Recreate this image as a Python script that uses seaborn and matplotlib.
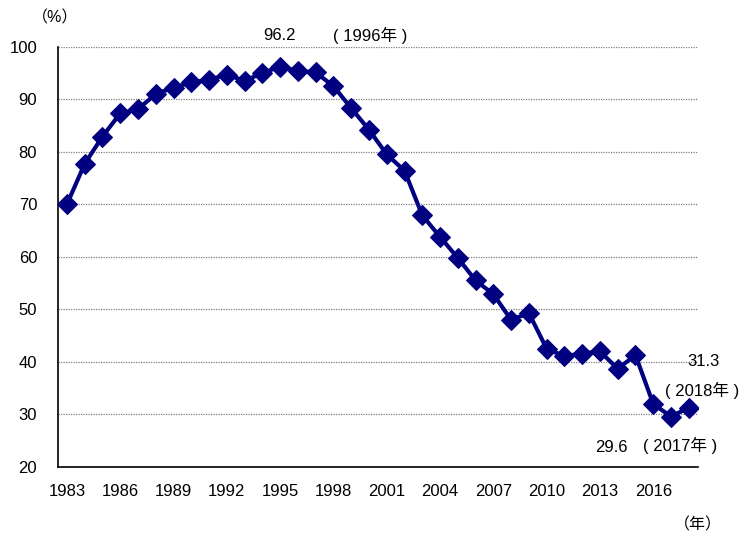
import numpy as np
import pandas as pd
import matplotlib.pyplot as plt
import seaborn as sns

sns.set_theme(style="white")
plt.rcParams['font.family'] = ['Liberation Sans', 'Noto Sans CJK JP']
plt.rcParams['text.color'] = 'black'

years = list(range(1983, 2019))
rates = [70.0, 77.7, 82.9, 87.3, 88.1, 91.0, 92.2, 93.2, 93.7, 94.7,
         93.5, 95.0, 96.2, 95.4, 95.1, 92.5, 88.3, 84.2, 79.5, 76.4,
         67.9, 63.8, 59.8, 55.5, 52.9, 48.0, 49.3, 42.5, 41.1, 41.6,
         42.0, 38.7, 41.3, 32.0, 29.6, 31.3]
year_labels = list(range(1983, 2017, 3))
y_ticks = list(range(20, 101, 10))

df = pd.DataFrame({"year": years, "rate": rates})

fig = plt.figure(figsize=(7.43, 5.33), dpi=100)
ax = fig.add_axes([0.0781, 0.1238, 0.8609, 0.7886])

sns.lineplot(data=df, x="year", y="rate", ax=ax, color="#000080",
             marker="D", markersize=10, markeredgecolor="#000080",
             linewidth=3, zorder=3)

ax.set_xlim(years[0] - 0.5, years[-1] + 0.5)
ax.set_ylim(20, 100)
ax.set_yticks(y_ticks)
ax.set_xticks(year_labels)
ax.set_xticks([y + 0.5 for y in years], minor=True)
ax.tick_params(axis="x", which="major", length=0, pad=12, labelsize=12, colors="black")
ax.tick_params(axis="x", which="minor", direction="in", length=4, width=0.8, color="black")
ax.tick_params(axis="y", length=0, pad=15, labelsize=12, colors="black")
ax.set_xlabel("")
ax.set_ylabel("")

for v in y_ticks[1:]:
    ax.axhline(v, color="#808080", linestyle=(0, (1, 1)), linewidth=0.9, zorder=1)

for s in ["top", "right"]:
    ax.spines[s].set_visible(False)
for s in ["left", "bottom"]:
    ax.spines[s].set_color("black")
    ax.spines[s].set_linewidth(1.2)

fig.text(55 / 743, 1 - 18 / 533, "（%）", ha="center", va="center", fontsize=11.5)
fig.text(698 / 743, 1 - 525 / 533, "（年）", ha="center", va="center", fontsize=11.5)

fs = 12
fig.text(279 / 743, 1 - 35 / 533, "96.2", ha="center", va="center", fontsize=fs)
fig.text(370 / 743, 1 - 35 / 533, "( 1996年 )", ha="center", va="center", fontsize=fs)
fig.text(703 / 743, 1 - 361 / 533, "31.3", ha="center", va="center", fontsize=fs)
fig.text(702 / 743, 1 - 390 / 533, "( 2018年 )", ha="center", va="center", fontsize=fs)
fig.text(611 / 743, 1 - 447 / 533, "29.6", ha="center", va="center", fontsize=fs)
fig.text(680 / 743, 1 - 445 / 533, "( 2017年 )", ha="center", va="center", fontsize=fs)

fig.savefig("out.png", dpi=100)
